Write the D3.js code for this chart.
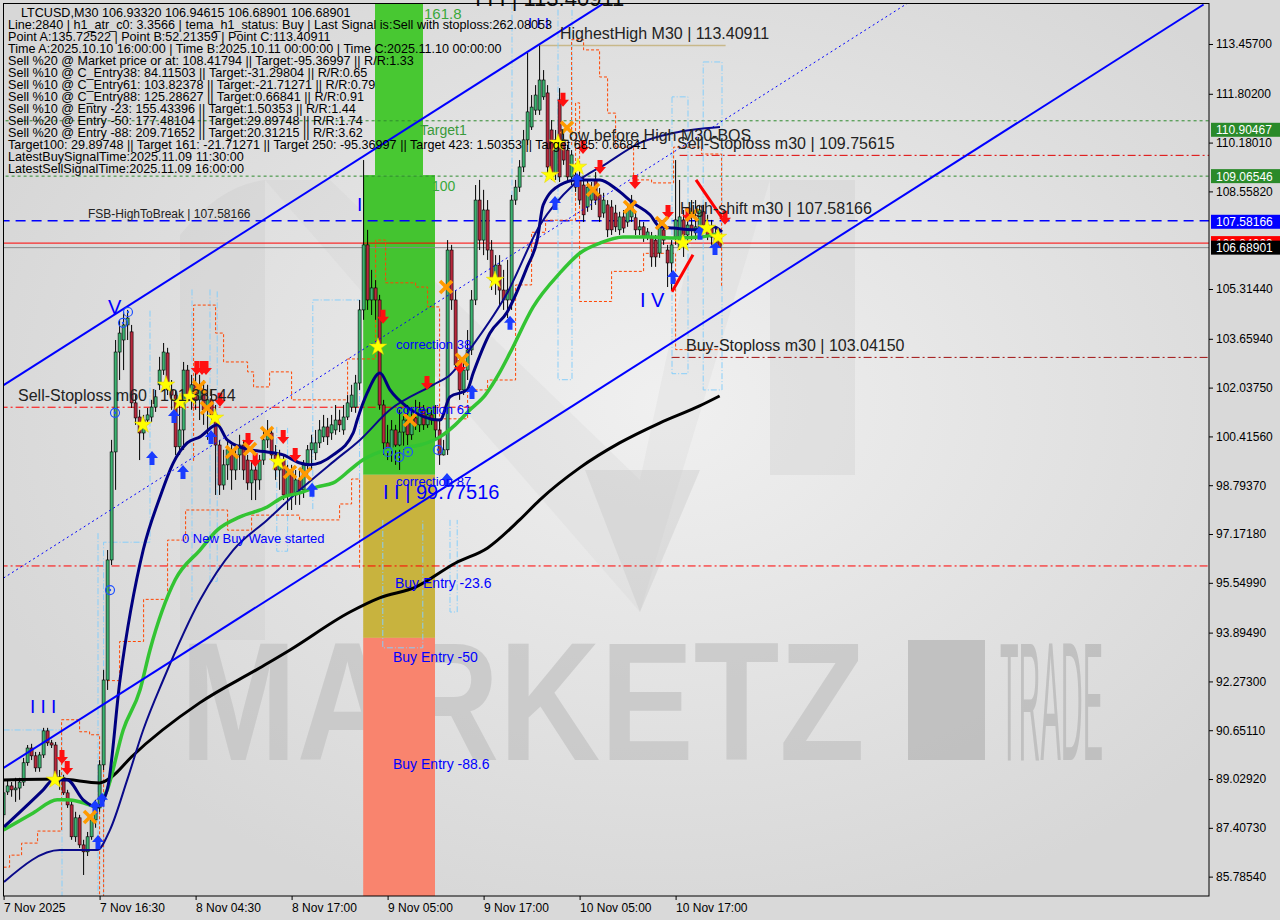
<!DOCTYPE html>
<html><head><meta charset="utf-8">
<script src="https://cdn.jsdelivr.net/npm/d3@7"></script>
<style>body{margin:0;background:#d9d9d9}svg{display:block}text{font-family:"Liberation Sans",Arial,sans-serif}</style>
</head><body><svg id="c" width="1280" height="920"></svg>
<script>
// ---------------- DATA ----------------
const barOpen=[87.84,88.60,88.80,88.67,88.73,88.93,89.57,90.06,89.80,89.40,89.83,90.63,90.23,90.16,89.10,89.07,88.57,88.17,87.11,87.74,86.84,86.61,87.11,87.67,88.07,89.50,92.32,96.31,99.90,103.22,103.62,104.12,103.89,101.53,101.06,100.53,100.96,101.06,101.39,102.13,102.62,103.19,101.96,101.79,100.07,100.63,102.62,101.79,102.13,101.63,101.96,101.30,101.63,101.13,100.13,98.80,99.47,99.97,99.30,99.80,100.13,99.63,98.87,99.30,98.97,99.63,100.30,100.53,99.80,99.30,99.63,98.47,99.30,98.47,98.97,98.64,99.47,99.97,99.87,100.20,100.40,100.73,100.53,100.63,100.96,100.63,101.06,101.39,101.39,102.19,104.62,106.78,104.95,105.35,104.95,101.46,100.20,99.97,100.63,100.13,100.56,100.96,100.47,101.03,100.80,101.30,100.80,101.13,100.96,100.63,99.80,99.97,106.61,104.95,102.79,101.96,102.62,103.29,104.95,108.27,106.94,107.94,106.61,105.61,106.11,105.28,104.95,104.95,108.27,108.70,109.37,110.27,110.70,111.26,111.26,111.70,111.83,110.60,109.17,111.60,110.27,109.93,109.04,109.10,109.04,108.77,108.04,108.27,108.94,108.44,107.84,108.11,108.04,107.84,107.28,107.71,107.54,107.71,107.68,107.28,107.38,107.04,107.04,106.94,106.51,107.28,106.61,106.18,107.04,106.71,107.61,107.11,107.44,107.18,107.28,107.88,107.44,107.34,107.08,106.93320];
const barClose=[88.57,88.80,88.67,88.73,88.93,89.57,90.06,89.80,89.40,89.83,90.63,90.23,90.16,89.10,89.07,88.57,88.17,87.11,87.74,86.84,86.61,87.11,87.67,88.07,89.50,92.32,96.31,99.90,103.22,103.85,104.12,104.35,101.53,101.03,100.53,100.96,101.13,101.39,101.73,102.62,103.22,101.96,101.79,100.07,100.63,102.62,101.79,102.13,101.63,101.96,101.30,101.63,101.13,100.13,98.80,99.47,99.97,99.30,99.80,100.13,99.30,98.87,99.30,98.97,99.63,100.30,100.53,99.80,99.30,99.63,98.47,99.30,98.47,98.97,98.64,99.47,99.97,100.20,100.20,100.63,100.73,100.40,100.80,100.96,100.80,101.06,101.53,101.79,102.19,104.62,106.78,104.95,105.35,104.95,101.46,100.20,99.97,100.63,100.13,100.56,100.96,100.47,101.03,100.80,101.30,100.80,101.13,100.96,100.63,99.80,99.97,106.61,104.95,102.79,101.96,102.62,103.29,104.95,108.27,106.94,107.94,106.61,105.61,106.11,105.28,104.95,105.28,108.27,108.70,109.37,110.27,111.20,111.36,111.76,112.26,112.26,109.37,109.17,110.27,109.04,109.60,109.04,109.77,108.70,108.27,107.78,108.70,108.61,108.27,107.71,108.27,107.28,107.28,107.38,107.71,107.34,107.94,108.27,107.28,107.38,107.04,107.21,106.38,106.38,107.38,106.94,106.18,106.78,107.61,107.71,107.11,107.44,107.28,107.38,107.94,107.44,107.11,107.04,106.84,106.68901];
const barHigh=[89.00,89.00,88.93,89.07,89.07,89.73,90.16,90.20,89.93,89.93,90.73,90.73,90.33,90.26,89.33,89.17,88.67,88.34,87.94,87.84,87.01,87.27,87.84,88.34,89.66,92.66,96.64,100.30,103.62,104.29,104.55,104.62,104.12,101.79,101.30,101.13,101.36,101.63,101.96,103.06,103.52,103.36,102.29,101.96,101.63,102.89,102.79,102.46,102.62,102.46,102.29,102.13,101.96,101.46,100.30,99.97,100.30,100.13,100.13,100.47,100.30,99.80,99.63,99.63,99.80,100.63,100.96,100.70,100.13,99.97,99.80,99.47,99.47,99.30,99.30,99.63,100.13,100.47,100.63,100.96,101.13,101.03,101.13,101.46,101.30,101.46,101.79,102.13,102.46,104.95,109.60,107.28,105.95,105.61,105.12,101.63,100.80,100.96,100.80,101.30,101.13,101.46,101.30,101.63,101.56,101.46,101.36,101.30,101.46,100.96,100.30,106.94,106.78,105.28,103.12,102.96,103.95,105.28,108.77,108.94,108.61,108.27,106.94,106.44,106.44,105.95,106.28,108.44,108.94,109.60,110.60,113.16,111.76,112.09,113.41,112.59,112.09,110.93,110.60,111.99,110.60,110.10,109.93,109.44,109.27,109.00,108.94,108.87,109.20,108.67,108.51,108.27,108.27,108.11,107.88,107.94,108.11,108.44,107.88,107.61,107.54,107.34,107.21,107.11,107.54,107.44,106.78,106.94,109.60,108.94,107.94,107.78,108.27,108.27,108.11,108.11,107.78,107.61,107.34,106.94615];
const barLow=[87.74,88.50,88.44,88.27,88.34,88.80,89.47,89.66,89.27,89.27,89.73,90.13,90.06,89.00,88.67,88.50,88.07,87.01,86.94,86.74,85.84,86.47,87.01,87.41,87.94,89.33,91.99,96.14,98.64,102.29,102.62,103.62,101.36,100.80,99.63,100.30,100.80,100.90,101.23,101.96,102.46,101.79,101.30,99.80,99.80,99.97,101.63,101.30,101.30,100.96,100.80,100.30,100.96,98.47,98.47,98.64,98.97,98.64,98.97,99.30,98.97,98.64,98.30,98.30,98.64,99.47,100.03,99.63,98.97,98.64,98.30,97.97,97.97,98.14,98.14,98.37,99.14,99.30,99.63,100.03,100.23,100.13,100.30,100.47,100.56,100.47,100.96,101.23,101.20,101.96,104.29,104.62,104.45,104.29,101.30,99.80,99.63,99.57,99.47,99.30,99.97,100.13,100.30,100.63,100.56,100.63,100.70,100.80,100.30,99.47,99.78,99.80,104.62,102.62,101.63,101.79,102.29,103.12,104.78,106.61,106.44,106.28,105.28,105.12,104.78,104.62,104.35,104.62,108.11,108.54,109.20,110.10,110.60,111.10,111.10,111.60,109.10,108.94,108.94,108.87,109.44,108.87,108.77,108.54,108.11,107.54,107.88,107.94,108.11,107.54,107.68,107.04,107.11,107.21,107.11,107.18,107.38,107.54,107.11,107.11,106.88,106.94,106.05,106.05,106.35,106.78,105.38,105.28,106.78,106.61,106.38,106.78,106.94,106.94,107.11,107.21,106.94,106.78,106.61,106.68901];

const maBlack=[[0,89.00],[14,89.03],[24,88.90],[27,89.10],[32,89.77],[49,91.56],[64,92.72],[71.6,93.32],[86.6,94.58],[94,95.05],[103,95.41],[113,96.21],[121,96.71],[129,97.64],[134,98.30],[144,99.37],[154,100.20],[164,100.86],[174,101.43],[179,101.76]];
const maGreen=[[0,87.34],[7.4,87.90],[13.4,88.34],[15.9,88.34],[19.9,88.24],[23.4,88.10],[25.9,88.67],[29.9,90.66],[34.1,91.99],[36.6,93.32],[42.9,95.65],[49.1,96.64],[53.4,97.30],[59.1,97.74],[65.9,98.07],[69.9,98.40],[74.1,98.54],[78.4,98.74],[82.4,98.87],[86.6,99.30],[89.1,99.57],[94.1,99.90],[99.1,100.03],[104.1,100.13],[109.1,100.40],[112.9,100.80],[116.6,101.30],[120.4,101.79],[124.1,102.56],[126.6,103.19],[132.4,104.72],[139.1,105.85],[144.1,106.51],[149.1,106.84],[154.9,107.04],[161.6,107.04],[167.4,107.01],[174.1,107.04],[179.1,107.18]];
const maNavyFast=[[0.1,87.44],[9.9,88.67],[12.4,89.00],[15.9,89.00],[19.9,88.34],[23.4,88.10],[25.9,88.67],[29.1,92.32],[34.9,96.64],[39.1,98.40],[42.4,99.53],[45.9,100.20],[49.1,100.40],[53.4,100.80],[55.9,100.30],[61.6,99.97],[65.9,99.90],[69.9,99.80],[74.1,99.53],[76.6,99.47],[82.4,99.80],[87.4,100.53],[88.4,100.96],[90.9,101.86],[94.1,102.52],[96.6,101.96],[100.9,101.39],[109.1,100.96],[111.6,101.73],[115.9,101.96],[117.4,102.52],[121.6,103.85],[125.9,104.55],[130.9,106.05],[133.4,106.94],[134.9,108.11],[139.1,108.77],[143.4,108.94],[149.1,108.94],[153.4,108.61],[157.4,108.17],[161.6,107.78],[164.1,107.38],[167.4,107.34],[172.4,107.28],[177.4,107.38],[179.6,107.21]];
const maNavySlow=[[0.1,85.61],[14.1,86.67],[23.4,86.67],[26.6,87.34],[30.9,89.00],[34.9,90.66],[39.9,92.32],[49.1,94.98],[57.4,96.64],[65.9,97.64],[74.1,98.64],[82.4,99.57],[89.1,100.30],[96.6,101.30],[107.4,102.13],[111.6,102.46],[117.4,103.46],[125.9,105.18],[134.1,107.44],[142.4,108.77],[150.9,109.50],[159.1,110.17],[167.4,110.50],[179.1,110.70]];

const channelUpper=[[0,102.12],[160,115.65]];
const channelLower=[[0,89.40],[300,114.77]];
const channelMid=[[0,95.71],[230,115.15]];

const orangeSteps=[
 [[0,86.1],[1.5,86.1],[1.5,86.5],[4.5,86.5],[4.5,86.9],[8.5,86.9],[8.5,87.3],[14.5,87.3],[14.5,91.0],[19,91.0],[19,90.6],[21.5,90.6],[21.5,90.5],[24,90.5],[24,85.1]],
 [[47.5,99.6],[47.5,104.78],[53,104.78],[53,103.85],[55,103.85],[55,102.89],[61,102.89],[61,102.56],[62.5,102.56],[62.5,102.06],[66.5,102.06],[66.5,102.56],[72,102.56],[72,101.63],[86,101.63],[86,102.99],[93,102.99],[93,106.94],[95.5,106.94],[95.5,105.52],[103,105.52],[103,105.38],[106,105.38],[106,104.72],[109,104.72],[109,99.8]],
 [[25,85.1],[25,92.3],[29,92.3],[29,93.6],[35,93.6],[35,95.0],[41,95.0],[41,96.97],[45.5,96.97],[45.5,97.97],[56,97.97],[56,97.3],[62,97.3],[62,97.8],[74,97.8],[74,97.64],[84,97.64],[84,98.17],[87,98.17],[87,99.0],[89,99.0],[89,96.0]],
 [[109,99.8],[109,101.0],[116,101.0],[116,101.96],[121,101.96],[121,102.29],[128,102.29],[128,105.45],[132,105.45],[132,107.2],[135.5,107.2],[135.5,107.6],[143,107.6],[143,111.5],[144,111.5],[144,104.9],[152,104.9],[152,105.9],[160,105.9],[160,106.5],[168,106.5],[168,103.3],[179.5,103.3]],
 [[142,110.1],[142,113.6],[145,113.6],[145,113.26],[149,113.26],[149,112.36],[151,112.36],[151,111.16],[153,111.16],[153,110.03],[157.5,110.03],[157.5,108.94],[162,108.94],[162,108.84],[167.5,108.84],[167.5,110.03],[174.5,110.03],[174.5,109.8],[179.5,109.8],[179.5,105.4]]
];
const lightBlueSteps=[
 [[0,90.66],[14.6,90.66],[14.6,85.1]],
 [[23.6,97.2],[23.6,85.1]],
 [[25,85.1],[25,96.9],[36.6,96.9],[36.6,104.62]],
 [[47.1,105.3],[47.1,94.98]],
 [[51.6,105.3],[51.6,95.6],[53.4,95.6],[53.4,105.3]],
 [[68.3,100.73],[68.3,96.6],[71,96.6],[71,100.7]],
 [[77.3,98.0],[77.3,104.95],[89,104.95],[89,97.0]],
 [[94.8,97.64],[94.8,93.39],[104.8,93.39],[104.8,97.64]],
 [[111.6,97.64],[111.6,94.58],[113.4,94.58],[113.4,97.64]],
 [[127.1,114.8],[127.1,105.4]],
 [[138.6,114.6],[138.6,102.3],[142.1,102.3],[142.1,114.6]],
 [[167.1,111.7],[167.1,102.5],[171.1,102.5],[171.1,111.7],[167.1,111.7]],
 [[174.9,112.86],[179.6,112.86],[179.6,101.96],[174.9,101.96],[174.9,112.86]]
];

const sellArrows=[[14.6,89.76],[15.9,89.40],[48.3,102.69],[49.6,102.69],[50.6,102.69],[54.1,101.63],[61.1,100.30],[62.9,99.63],[69.9,100.40],[72.9,99.80],[94.85,104.39],[105.85,102.19],[114.1,102.72],[139.85,111.60],[144.85,110.03],[149.1,109.37],[157.85,108.87],[166.1,107.87],[171.1,107.78],[180.35,107.68]];
const buyArrows=[[23.6,86.94],[22.85,88.10],[24.6,88.34],[37.1,99.70],[44.85,99.23],[42.6,101.09],[51.85,100.40],[77.1,98.64],[110.85,98.97],[117.1,101.89],[126.6,104.19],[137.85,108.17],[143.35,108.94],[167.35,105.71],[174.1,107.18],[177.85,106.68]];
const stars=[[12.85,89.00],[34.85,100.80],[40.6,102.13],[44.1,101.56],[46.6,101.73],[52.85,101.03],[68.6,99.57],[93.6,103.39],[122.85,105.61],[136.6,109.10],[138.6,110.17],[143.6,109.37],[169.85,106.84],[175.85,107.34],[178.6,107.04]];
const crosses=[[21.6,87.77],[48.85,102.06],[50.85,101.36],[57.1,99.90],[61.6,100.00],[65.85,100.53],[71.6,99.23],[75.35,99.17],[101.6,100.96],[110.6,105.38],[114.6,102.96],[140.85,110.67],[147.35,108.61],[156.6,108.04],[164.6,107.51],[172.1,107.78]];
const circles=[[27.85,101.20],[29.85,104.19],[31.1,104.55],[26.6,95.31],[96.1,99.90],[98.85,99.73],[101.1,99.90],[108.6,99.97]];
const redTrends=[[[173.1,108.94],[179.6,107.68]],[[167.1,105.22],[172.35,106.45]]];

// horizontal levels
const levelFsb=107.58166, levelTarget1=110.90467, levelTarget100=109.06546, levelBid=106.68901, levelAsk=106.84;
const levelSlM60=101.38544, levelSlM30=109.75615, levelBuySl=103.0415, levelRedLow=96.11, levelHighestHigh=113.40911;

// fib boxes [barStart, barEnd, priceTop, priceBottom]
const fibTopBox=[92.85,104.85,114.9,109.10];
const fibGreen=[89.9,107.85,109.10,99.14];
const fibYellow=[89.9,107.85,99.14,93.72];
const fibRed=[89.9,107.85,93.72,85.0];

const yTickValues=[113.457,111.802,110.1801,108.5582,105.3144,103.6594,102.0375,100.4156,98.7937,97.1718,95.5499,93.8949,92.273,90.6511,89.0292,87.4073,85.7854];
const timeTickBars=[0,24,48,72,96,120,144,168];
const timeTickLabels=["7 Nov 2025","7 Nov 16:30","8 Nov 04:30","8 Nov 17:00","9 Nov 05:00","9 Nov 17:00","10 Nov 05:00","10 Nov 17:00"];

const infoLines=[
"LTCUSD,M30  106.93320 106.94615 106.68901 106.68901",
"Line:2840 | h1_atr_c0: 3.3566 | tema_h1_status: Buy | Last Signal is:Sell with stoploss:262.08053",
"Point A:135.72522 | Point B:52.21359 | Point C:113.40911",
"Time A:2025.10.10 16:00:00 | Time B:2025.10.11 00:00:00 | Time C:2025.11.10 00:00:00",
"Sell %20 @ Market price or at: 108.41794 || Target:-95.36997 || R/R:1.33",
"Sell %10 @ C_Entry38: 84.11503 || Target:-31.29804 || R/R:0.65",
"Sell %10 @ C_Entry61: 103.82378 || Target:-21.71271 || R/R:0.79",
"Sell %10 @ C_Entry88: 125.28627 || Target:0.66841 || R/R:0.91",
"Sell %10 @ Entry -23: 155.43396 || Target:1.50353 || R/R:1.44",
"Sell %20 @ Entry -50: 177.48104 || Target:29.89748 || R/R:1.74",
"Sell %20 @ Entry -88: 209.71652 || Target:20.31215 || R/R:3.62",
"Target100: 29.89748 || Target 161: -21.71271 || Target 250: -95.36997 || Target 423: 1.50353 || Target 685: 0.66841",
"LatestBuySignalTime:2025.11.09 11:30:00",
"LatestSellSignalTime:2025.11.09 16:00:00"];

// annotations: text, bar, price
const annotations=[
 {t:"V",i:26.1,p:104.49,c:"#0000ff",s:20},
 {t:"I I I",i:6.6,p:91.23,c:"#0000ff",s:19},
 {t:"I",i:88.35,p:107.91,c:"#0000ff",s:19},
 {t:"I I | 99.77516",i:94.85,p:98.34,c:"#0000ff",s:20},
 {t:"I V",i:159.1,p:104.72,c:"#0000ff",s:20},
 {t:"I I I",i:131.1,p:113.99,c:"#0000ff",s:15},
 {t:"I I I | 113.40911",i:117.85,p:114.72,c:"#111",s:22},
 {t:"correction 38",i:98.1,p:103.32,c:"#0000ff",s:13},
 {t:"correction 61",i:98.1,p:101.16,c:"#0000ff",s:13},
 {t:"correction 87",i:98.1,p:98.77,c:"#0000ff",s:13},
 {t:"0 New Buy Wave started",i:44.6,p:96.87,c:"#0000ff",s:13},
 {t:"Buy Entry -23.6",i:97.85,p:95.38,c:"#0000ff",s:14},
 {t:"Buy Entry -50",i:97.35,p:92.92,c:"#0000ff",s:14},
 {t:"Buy Entry -88.6",i:97.35,p:89.36,c:"#0000ff",s:14},
 {t:"161.8",i:105.1,p:114.29,c:"#3aa83a",s:15},
 {t:"Target1",i:104.1,p:110.43,c:"#3a9a3a",s:14},
 {t:"100",i:107.1,p:108.57,c:"#3aa83a",s:14},
 {t:"Sell-Stoploss m60 | 101.38544",i:3.6,p:101.59,c:"#222",s:16},
 {t:"FSB-HighToBreak | 107.58166",i:21.1,p:107.68,c:"#222",s:12},
 {t:"High-shift m30 | 107.58166",i:169.1,p:107.81,c:"#222",s:16},
 {t:"Sell-Stoploss m30 | 109.75615",i:168.35,p:109.97,c:"#222",s:16},
 {t:"Buy-Stoploss m30 | 103.04150",i:170.6,p:103.26,c:"#222",s:16},
 {t:"Low before High  M30-BOS",i:139.1,p:110.23,c:"#222",s:16},
 {t:"HighestHigh   M30 | 113.40911",i:139.1,p:113.62,c:"#222",s:16}
];

// ---------------- DRAW ----------------
const svg=d3.select("#c");
const x=d3.scaleLinear().domain([0,301.35]).range([3.6,1209]);
const y=d3.scaleLinear().domain([85.142,114.786]).range([896,4]);
const defs=svg.append("defs");
const rg=defs.append("radialGradient").attr("id","bg").attr("cx","0.55").attr("cy","0.45").attr("r","0.6");
rg.append("stop").attr("offset","0").attr("stop-color","#f0f0f0");
rg.append("stop").attr("offset","1").attr("stop-color","#d7d7d7");
defs.append("clipPath").attr("id","clip").append("rect").attr("x",3).attr("y",3).attr("width",1206).attr("height",893);

svg.append("rect").attr("width",1280).attr("height",920).attr("fill","#d9d9d9");
svg.append("rect").attr("x",3).attr("y",3).attr("width",1206).attr("height",893).attr("fill","url(#bg)");

const P=svg.append("g").attr("clip-path","url(#clip)");
// watermark
const wm=P.append("g");
wm.append("path").attr("d","M180,235 Q220,185 265,180 L265,640 L180,640 Z").attr("fill","#c6c6c6").attr("opacity",0.28);
wm.append("path").attr("d","M770,180 L855,180 L855,475 L770,475 Z").attr("fill","#c6c6c6").attr("opacity",0.28);
wm.append("path").attr("d","M265,180 L330,180 L640,480 L705,180 L770,180 L640,612 Z").attr("fill","#c6c6c6").attr("opacity",0.18);
wm.append("path").attr("d","M585,470 L700,470 L640,612 Z").attr("fill","#c2c2c2").attr("opacity",0.35);
function squeezed(txt,x0,w,opts){
  const t=wm.append("text").attr("font-size",168).attr("font-weight",opts.bold?"bold":"normal").attr("fill",opts.fill).attr("opacity",opts.op).text(txt);
  const nat=t.node().getComputedTextLength();
  t.attr("transform",`translate(${x0},760) scale(${w/nat},1)`);
}
squeezed("MARKETZ",180,685,{bold:true,fill:"#c4c4c4",op:0.75});
wm.append("rect").attr("x",908).attr("y",640).attr("width",77).attr("height",120).attr("fill","#b9b9b9").attr("opacity",0.8);
squeezed("TRADE",1000,103,{bold:false,fill:"#bcbcbc",op:0.85});

// fib boxes
function box(b,col){P.append("rect").attr("x",x(b[0])).attr("y",y(b[2])).attr("width",x(b[1])-x(b[0])).attr("height",y(b[3])-y(b[2])).attr("fill",col);}
box(fibTopBox,"#48c832");box(fibGreen,"#44c430");box(fibYellow,"#c8b33e");box(fibRed,"#f9846e");

// horizontal levels
function hline(p,i0,i1,col,dash,w){P.append("line").attr("x1",x(i0)).attr("x2",x(i1)).attr("y1",y(p)).attr("y2",y(p)).attr("stroke",col).attr("stroke-width",w||1).attr("stroke-dasharray",dash||null);}
hline(levelTarget1,-1,302,"#2e8b2e","3,3");
hline(levelTarget100,-1,302,"#2e8b2e","3,3");
hline(levelFsb,-1,302,"#0000ff","10,6",1.5);
hline(levelAsk,-1,302,"#ff0000",null,1);
hline(levelBid,-1,302,"#8a8a8a",null,1);
hline(levelRedLow,-1,302,"#ff0000","8,3,2,3",1);
hline(levelSlM60,-1,117,"#ff0000","8,3,2,3",1);
hline(levelSlM30,169,302,"#e00000","8,3,2,3",1);
hline(levelBuySl,167,302,"#a01010","8,3,2,3",1);
hline(levelHighestHigh,134,180.5,"#c8b88a",null,1.5);

const line=d3.line().x(d=>x(d[0])).y(d=>y(d[1]));
// step lines
lightBlueSteps.forEach(s=>P.append("path").attr("d",line(s)).attr("fill","none").attr("stroke","#87cefa").attr("stroke-width",1).attr("stroke-dasharray","6,2,1,2"));
orangeSteps.forEach(s=>P.append("path").attr("d",line(s)).attr("fill","none").attr("stroke","#ff4500").attr("stroke-width",1).attr("stroke-dasharray","3,2"));

// candles
const bars=d3.range(barOpen.length);
const cg=P.append("g");
cg.selectAll("line.w").data(bars).join("line").attr("x1",i=>x(i)).attr("x2",i=>x(i)).attr("y1",i=>y(barHigh[i])).attr("y2",i=>y(barLow[i])).attr("stroke","#000").attr("stroke-width",1);
cg.selectAll("rect.b").data(bars).join("rect").attr("x",i=>x(i)-1.5).attr("width",3)
  .attr("y",i=>y(Math.max(barOpen[i],barClose[i]))).attr("height",i=>Math.max(1,Math.abs(y(barOpen[i])-y(barClose[i]))))
  .attr("fill",i=>barClose[i]>=barOpen[i]?"#3cb371":"#b8283c").attr("stroke","#000").attr("stroke-width",0.6);

// moving averages
const curve=d3.line().x(d=>x(d[0])).y(d=>y(d[1])).curve(d3.curveMonotoneX);
P.append("path").attr("d",curve(maBlack)).attr("fill","none").attr("stroke","#000").attr("stroke-width",3);
P.append("path").attr("d",curve(maNavySlow)).attr("fill","none").attr("stroke","#0a0a8a").attr("stroke-width",2);
P.append("path").attr("d",curve(maGreen)).attr("fill","none").attr("stroke","#33c433").attr("stroke-width",3.5);
P.append("path").attr("d",curve(maNavyFast)).attr("fill","none").attr("stroke","#000080").attr("stroke-width",3);

// channel
[channelUpper,channelLower].forEach(c=>P.append("path").attr("d",line(c)).attr("stroke","#0000ff").attr("stroke-width",2).attr("fill","none"));
P.append("path").attr("d",line(channelMid)).attr("stroke","#0000ff").attr("stroke-width",1).attr("stroke-dasharray","2,3").attr("fill","none");

// markers
const arrowPath="M0,-7 L6,0 L2.5,0 L2.5,7 L-2.5,7 L-2.5,0 L-6,0 Z";
P.selectAll("path.sa").data(sellArrows).join("path").attr("d",arrowPath).attr("transform",d=>`translate(${x(d[0])},${y(d[1])}) rotate(180)`).attr("fill","#ff1010");
P.selectAll("path.ba").data(buyArrows).join("path").attr("d",arrowPath).attr("transform",d=>`translate(${x(d[0])},${y(d[1])})`).attr("fill","#1a3cff");
P.selectAll("g.cx").data(crosses).join("g").attr("transform",d=>`translate(${x(d[0])},${y(d[1])})`).each(function(){
  const g=d3.select(this);
  g.append("line").attr("x1",-6).attr("y1",-6).attr("x2",6).attr("y2",6).attr("stroke","#ff9a00").attr("stroke-width",3.5);
  g.append("line").attr("x1",-6).attr("y1",6).attr("x2",6).attr("y2",-6).attr("stroke","#ff9a00").attr("stroke-width",3.5);});
P.selectAll("path.st").data(stars).join("path").attr("d",d3.symbol().type(d3.symbolStar).size(95)).attr("transform",d=>`translate(${x(d[0])},${y(d[1])})`).attr("fill","#ffff00").attr("stroke","#e6d200").attr("stroke-width",0.5);
P.selectAll("g.ci").data(circles).join("g").attr("transform",d=>`translate(${x(d[0])},${y(d[1])})`).each(function(){
  const g=d3.select(this);
  g.append("circle").attr("r",4.5).attr("fill","none").attr("stroke","#1e50ff").attr("stroke-width",1.2);
  g.append("circle").attr("r",1.2).attr("fill","#1e50ff");});
redTrends.forEach(s=>P.append("path").attr("d",line(s)).attr("stroke","#ff0000").attr("stroke-width",3).attr("fill","none"));

// annotations
const A=svg.append("g");
annotations.forEach(a=>A.append("text").attr("x",x(a.i)).attr("y",y(a.p)).attr("fill",a.c).attr("font-size",a.s).text(a.t));

// info panel
const I=svg.append("g").attr("font-size",12.6).attr("fill","#000");
infoLines.forEach((t,k)=>I.append("text").attr("x",k===0?21:8).attr("y",17.3+12*k).text(t));

// axes
const ra=svg.append("g").attr("transform","translate(1209,0)")
  .call(d3.axisRight(y).tickValues(yTickValues).tickSize(4).tickPadding(3).tickFormat(d3.format(".5f")));
ra.select(".domain").remove();
ra.selectAll("text").attr("font-size",12).attr("fill","#000").attr("font-family","Liberation Sans, Arial");
ra.selectAll("line").attr("stroke","#000");
const ba=svg.append("g").attr("transform","translate(0,896)")
  .call(d3.axisBottom(x).tickValues(timeTickBars).tickSize(4).tickFormat((d,i)=>timeTickLabels[i]));
ba.select(".domain").remove();
ba.selectAll("text").attr("font-size",12).attr("fill","#000").attr("text-anchor","start").attr("y",16).attr("dy",0).attr("font-family","Liberation Sans, Arial");
ba.selectAll("line").attr("stroke","#000");

// price labels
const priceLabels=[
 {p:levelTarget1,bg:"#2a8a2a",fg:"#fff",dy:9},
 {p:levelTarget100,bg:"#2a8a2a",fg:"#fff",dy:0},
 {p:levelFsb,bg:"#0000ff",fg:"#fff",dy:1},
 {p:levelAsk,bg:"#ff0000",fg:"#fff",dy:0},
 {p:levelBid,bg:"#000",fg:"#fff",dy:0}];
priceLabels.forEach(l=>{
  const cy=y(l.p)+l.dy;
  svg.append("rect").attr("x",1211).attr("y",cy-7).attr("width",69).attr("height",14).attr("fill",l.bg);
  svg.append("text").attr("x",1216).attr("y",cy+4.5).attr("font-size",12).attr("fill",l.fg).text(d3.format(".5f")(l.p));
});

// border
svg.append("rect").attr("x",3.5).attr("y",3.5).attr("width",1205.5).attr("height",892.5).attr("fill","none").attr("stroke","#000").attr("stroke-width",1);
</script></body></html>
